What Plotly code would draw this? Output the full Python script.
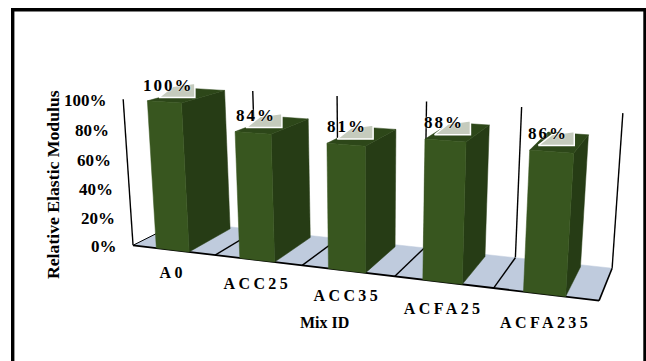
import numpy as np
import plotly.graph_objects as go

# Chart data
categories = ["A0", "ACC25", "ACC35", "ACFA25", "ACFA235"]
modulus_pct = [100, 84, 81, 88, 86]
value_ticks = [0, 20, 40, 60, 80, 100]
y_title = "Relative Elastic Modulus"
x_title = "Mix ID"

# Colours
FRONT = "#38561f"
SIDE = "#263c15"
TOP = "#2d4719"
FLOOR = "#bfcbdd"
CALLOUT = "#c5cbbd"

# Bar footprint inside one category slot (slot units / depth units)
BAR_X = (0.29, 0.69)
BAR_D = (0.0, 0.93)

# Perspective camera: solved from where the chart box sits on the page.
# Box coordinates are (category slot, depth 0..1, value in percent).
box_pts = [
    (0, 0, 0), (1, 0, 0), (2, 0, 0), (3, 0, 0), (4, 0, 0), (5, 0, 0),
    (0, 1, 0), (3, 1, 0), (4, 1, 0), (5, 1, 0),
    (1, 1, 100), (2, 1, 100), (3, 1, 100), (4, 1, 100), (5, 1, 100),
    (0, 0, 100),
]
page_pts = [
    (132, 245), (215, 255), (304, 265), (395, 276), (493, 288), (599, 301),
    (181, 222), (423, 248), (515, 258), (613, 268),
    (253, 90), (337, 96), (427, 102), (521, 107), (623, 113),
    (123, 100),
]


def solve_camera(world, page):
    rows = []
    for (c, d, v), (u, w) in zip(world, page):
        X = [c, d, v / 100, 1]
        rows.append(X + [0, 0, 0, 0] + [-u * a / 500 for a in X])
        rows.append([0, 0, 0, 0] + X + [-w * a / 500 for a in X])
    m = np.linalg.svd(np.array(rows, dtype=float))[2][-1]
    return m[:4], m[4:8], m[8:12] / 500


P_U, P_W, P_H = solve_camera(box_pts, page_pts)


def project(c, d, v):
    X = np.array([c, d, v / 100, 1.0])
    h = P_H @ X
    return float(P_U @ X / h), float(P_W @ X / h)


fig = go.Figure()


def polygon(corners, fill):
    pts = [project(*p) for p in corners]
    pts.append(pts[0])
    fig.add_trace(go.Scatter(
        x=[p[0] for p in pts], y=[p[1] for p in pts], mode="lines",
        fill="toself", fillcolor=fill, line=dict(color=fill, width=0.5),
        hoverinfo="skip", showlegend=False))


def segment(a, b, width=1.4):
    pa, pb = project(*a), project(*b)
    fig.add_trace(go.Scatter(
        x=[pa[0], pb[0]], y=[pa[1], pb[1]], mode="lines",
        line=dict(color="#000000", width=width),
        hoverinfo="skip", showlegend=False))


n = len(categories)

# Back wall grid verticals and the front edge of the side wall
for i in range(1, n + 1):
    segment((i, 1, 0), (i, 1, 100))
segment((0, 0, 0), (0, 0, 100))

# Floor with its divider lines and edges
polygon([(0, 0, 0), (n, 0, 0), (n, 1, 0), (0, 1, 0)], FLOOR)
for i in range(1, n):
    segment((i, 0, 0), (i, 1, 0))
segment((0, 0, 0), (n, 0, 0), 1.8)
segment((n, 0, 0), (n, 1, 0), 1.6)
segment((0, 0, 0), (0, 1, 0), 1.0)

# Bars and their value callouts
label_pos = []
for i, v in enumerate(modulus_pct):
    x0, x1 = i + BAR_X[0], i + BAR_X[1]
    d0, d1 = BAR_D
    polygon([(x1, d0, 0), (x1, d1, 0), (x1, d1, v), (x1, d0, v)], SIDE)
    polygon([(x0, d0, v), (x1, d0, v), (x1, d1, v), (x0, d1, v)], TOP)
    polygon([(x0, d0, 0), (x1, d0, 0), (x1, d0, v), (x0, d0, v)], FRONT)

    lx, ly = project(i + sum(BAR_X) / 2, 0.25, v)
    lx, ly = lx - 8, ly - 14
    label_pos.append((lx, ly))
    fig.add_trace(go.Scatter(
        x=[lx - 10, lx + 4, lx + 26, lx + 26, lx - 10],
        y=[ly + 13, ly + 2, ly - 1, ly + 13, ly + 13], mode="lines",
        fill="toself", fillcolor=CALLOUT, line=dict(color="#ffffff", width=1.5),
        hoverinfo="skip", showlegend=False))


def label(x, y, text, size, angle=0, anchor="center", halo=False):
    font = dict(family="Liberation Serif", size=size, color="#000000")
    if halo:
        font["shadow"] = "0 0 2px #ffffff"
    fig.add_annotation(
        x=x, y=y, xref="x", yref="y", text=f"<b>{text}</b>", showarrow=False,
        xanchor=anchor, yanchor="middle", textangle=angle, font=font)


# Value labels go first so the spacing script can find them by position
for (lx, ly), v in zip(label_pos, modulus_pct):
    label(lx, ly + 1, f"{v}%", 17, halo=True)

# Category labels hang below the front edge of the floor, on a slightly steeper row
for i, name in enumerate(categories):
    cx, cy = project(i + 0.5, 0, 0)
    label(cx, cy + 22 + 1.5 * i, name, 16)

# Value axis labels, right aligned against the slanted axis
for t in value_ticks:
    ax, ay = project(0, 0, t)
    label(ax - 14, ay + 1, f"{t}%", 17, anchor="right")

label(324, 322, x_title, 16)
label(53, 185, y_title, 17.7, angle=-90)

# Page frame: top, left and right rules only
fig.add_shape(type="path", xref="x", yref="y",
              path="M 12.7 361 L 12.7 9.8 L 645 9.8 L 645 361",
              line=dict(color="#000000", width=3.4))

fig.update_layout(
    width=646, height=361, margin=dict(l=0, r=0, t=0, b=0),
    paper_bgcolor="#ffffff", plot_bgcolor="#ffffff", showlegend=False,
    xaxis=dict(range=[0, 646], visible=False, fixedrange=True),
    yaxis=dict(range=[361, 0], visible=False, fixedrange=True),
)

# Plotly has no letter-spacing option, so it is applied to the finished labels
spacing = """
var nValues = %d, nNames = %d;
document.querySelectorAll('.annotation-text').forEach(function (el, i) {
  if (i < nValues) el.style.letterSpacing = '2px';
  else if (i < nValues + nNames) el.style.letterSpacing = '3.4px';
});
""" % (len(modulus_pct), len(categories))

fig.write_html("out.html", post_script=spacing, config={"displayModeBar": False})
